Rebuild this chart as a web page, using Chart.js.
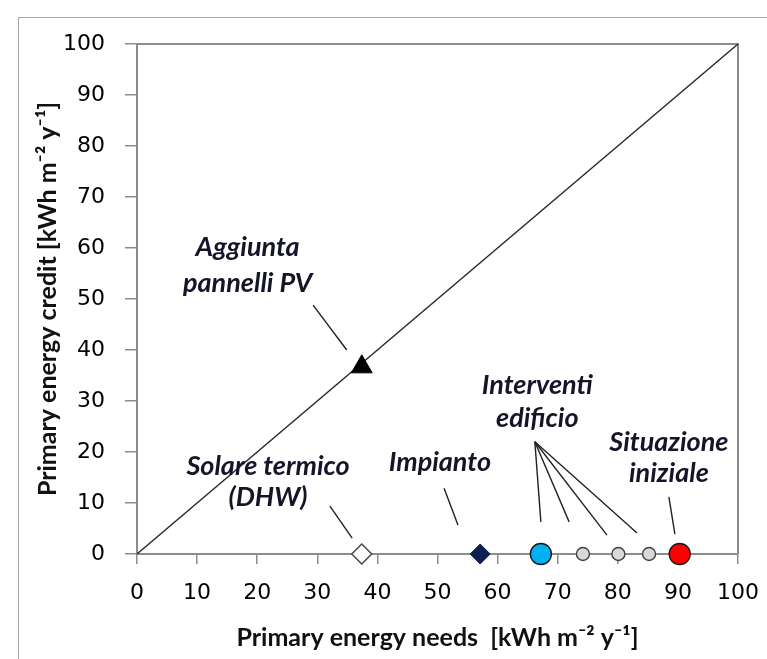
<!DOCTYPE html>
<html><head><meta charset="utf-8">
<script src="https://cdn.jsdelivr.net/npm/chart.js@4.4.0/dist/chart.umd.min.js"></script>
<style>
html,body{margin:0;padding:0;background:#fff;overflow:hidden}
#frame{position:absolute;left:18px;top:17px;width:800px;height:700px;border:1px solid #a8a8a8;box-sizing:border-box}
#wrap{position:absolute;left:0;top:0;width:767px;height:659px}
</style></head>
<body>
<div id="frame"></div>
<div id="wrap"><canvas id="c" width="767" height="659"></canvas></div>
<script>
// ---- data ----
const xTicks = [0,10,20,30,40,50,60,70,80,90,100];
const yTicks = [0,10,20,30,40,50,60,70,80,90,100];
const diagonalX = [0, 100];
const diagonalY = [0, 100];
const pvPoint = {x: 37.4, y: 36.7};
const dhwPoint = {x: 37.4, y: 0};
const impiantoPoint = {x: 57.1, y: 0};
const edificioMainPoint = {x: 67.2, y: 0};
const edificioStepsX = [74.2, 80.1, 85.2];
const inizialePoint = {x: 90.3, y: 0};

const xTitle = 'Primary energy needs  [kWh m\u207B\u00B2 y\u207B\u00B9]';
const yTitle = 'Primary energy credit [kWh m\u207B\u00B2 y\u207B\u00B9]';

// annotation text lines (anchored in data coordinates)
const annotationText = ['Aggiunta','pannelli PV','Solare termico','(DHW)','Impianto','Interventi','edificio','Situazione','iniziale'];
const annotationX = [18.4, 18.4, 21.8, 21.8, 50.4, 66.6, 66.6, 88.5, 88.5];
const annotationY = [60.2, 53.1, 17.1, 11.2, 18.0, 33.1, 26.7, 22.0, 15.9];
// leader lines: [x1, y1, x2, y2] in data coordinates
const leaders = [
  [29.3,48.8,34.9,40.0],
  [32.1,9.4,35.8,3.1],
  [51.1,12.9,53.4,5.7],
  [66.2,22.0,67.2,6.3],
  [66.2,22.0,71.9,6.3],
  [66.2,22.0,78.2,3.7],
  [66.2,22.0,83.2,4.1],
  [88.5,11.2,89.5,3.9]
];

const annotationPlugin = {
  id:'annot',
  beforeDatasetsDraw(chart){
    const {ctx, chartArea:a} = chart;
    ctx.save();
    ctx.strokeStyle = '#8c8c8c'; ctx.lineWidth = 2;
    ctx.beginPath();
    ctx.moveTo(a.left, a.top); ctx.lineTo(a.right, a.top); ctx.lineTo(a.right, a.bottom);
    ctx.stroke();
    ctx.restore();
  },
  afterDatasetsDraw(chart){
    const {ctx, scales:{x, y}} = chart;
    ctx.save();
    ctx.strokeStyle = '#222'; ctx.lineWidth = 1.4;
    leaders.forEach(l=>{
      ctx.beginPath();
      ctx.moveTo(x.getPixelForValue(l[0]), y.getPixelForValue(l[1]));
      ctx.lineTo(x.getPixelForValue(l[2]), y.getPixelForValue(l[3]));
      ctx.stroke();
    });
    ctx.fillStyle = '#15152a';
    ctx.font = 'italic bold 27px Lato';
    ctx.textAlign = 'center'; ctx.textBaseline = 'middle';
    annotationText.forEach((t,i)=>{
      ctx.fillText(t, x.getPixelForValue(annotationX[i]), y.getPixelForValue(annotationY[i]));
    });
    ctx.restore();
  }
};

const axisColor = '#8c8c8c';
new Chart(document.getElementById('c'), {
  type:'scatter',
  data:{
    datasets:[
      {label:'diag', data: diagonalX.map((v,i)=>({x:v,y:diagonalY[i]})), showLine:true,
       borderColor:'#2a2a2a', borderWidth:1.5, pointRadius:0, clip:false, order:5},
      {label:'PV', data:[pvPoint], pointStyle:'triangle', pointRadius:12, backgroundColor:'#000', borderColor:'#000', borderWidth:1, clip:false},
      {label:'DHW', data:[dhwPoint], pointStyle:'rectRot', pointRadius:10, backgroundColor:'#fff', borderColor:'#444', borderWidth:1.4, clip:false},
      {label:'Impianto', data:[impiantoPoint], pointStyle:'rectRot', pointRadius:10, backgroundColor:'#0c1f50', borderColor:'#0c1f50', borderWidth:1, clip:false},
      {label:'Edificio', data:[edificioMainPoint], pointStyle:'circle', pointRadius:10.5, backgroundColor:'#00b0f0', borderColor:'#1a1a1a', borderWidth:1.4, clip:false},
      {label:'Steps', data: edificioStepsX.map(v=>({x:v,y:0})), pointStyle:'circle', pointRadius:6.5, backgroundColor:'#d9d9d9', borderColor:'#404040', borderWidth:1.4, clip:false},
      {label:'Iniziale', data:[inizialePoint], pointStyle:'circle', pointRadius:10.5, backgroundColor:'#ff0000', borderColor:'#1a1a1a', borderWidth:1.4, clip:false}
    ]
  },
  options:{
    responsive:false, animation:false,
    layout:{padding:{left:0,right:29,top:44,bottom:0}},
    plugins:{legend:{display:false}, tooltip:{enabled:false}},
    scales:{
      x:{type:'linear', min:0, max:100,
        afterBuildTicks(s){ s.ticks = xTicks.map(v=>({value:v})); },
        afterFit(s){ s.height = 105; s.paddingLeft = 0; s.paddingRight = 0; },
        grid:{display:true, drawOnChartArea:false, drawTicks:true, tickLength:10, color:axisColor, lineWidth:1.5},
        border:{display:true, color:axisColor, width:2},
        ticks:{color:'#000', font:{family:'DejaVu Sans', size:22}, padding:16, maxRotation:0, autoSkip:false},
        title:{display:true, text:xTitle, color:'#111', font:{family:'Lato', size:25, weight:'bold'}, padding:{top:0,bottom:6}}
      },
      y:{type:'linear', min:0, max:100,
        afterBuildTicks(s){ s.ticks = yTicks.map(v=>({value:v})); },
        afterFit(s){ s.width = 137; s.paddingTop = 0; s.paddingBottom = 0; },
        grid:{display:true, drawOnChartArea:false, drawTicks:true, tickLength:12, color:axisColor, lineWidth:1.5},
        border:{display:true, color:axisColor, width:2},
        ticks:{color:'#000', font:{family:'DejaVu Sans', size:22}, padding:20, autoSkip:false},
        title:{display:true, text:yTitle, color:'#111', font:{family:'Lato', size:25, weight:'bold'}, padding:{top:33,bottom:0}}
      }
    }
  },
  plugins:[annotationPlugin]
});
</script>
</body></html>
